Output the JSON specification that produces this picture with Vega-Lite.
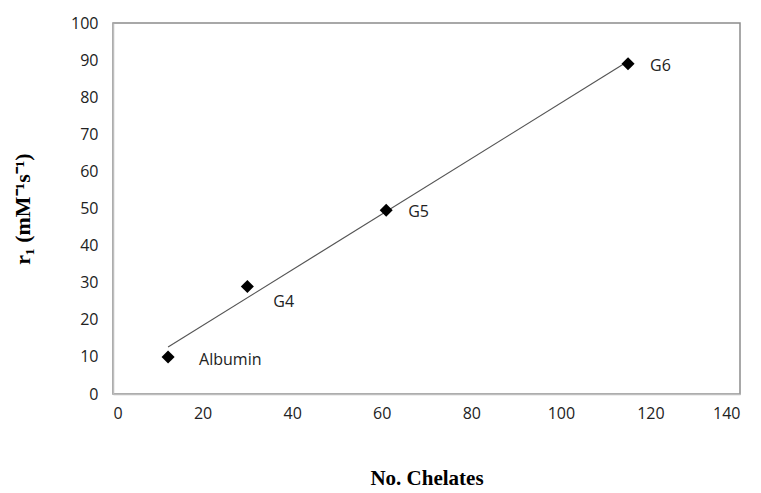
{
  "$schema": "https://vega.github.io/schema/vega-lite/v6.json",
  "width": 627,
  "height": 371,
  "autosize": {"type": "none"},
  "padding": {"left": 113, "top": 23, "right": 21, "bottom": 99},
  "background": "white",
  "config": {
    "view": {"stroke": "#8c8c8c", "strokeWidth": 1.5},
    "axis": {
      "grid": false,
      "ticks": false,
      "domain": true,
      "domainColor": "#bdbdbd",
      "domainWidth": 1.5,
      "labelFont": "Open Sans",
      "labelFontSize": 16,
      "labelColor": "#222",
      "labelOverlap": false,
      "titleFont": "Liberation Serif",
      "titleFontWeight": "bold",
      "titleColor": "#000"
    }
  },
  "data": {
    "values": [
      {"chelates": 12.3, "r1": 10, "name": "Albumin"},
      {"chelates": 30, "r1": 29, "name": "G4"},
      {"chelates": 61, "r1": 49.5, "name": "G5"},
      {"chelates": 115, "r1": 89, "name": "G6"}
    ]
  },
  "encoding": {
    "x": {
      "field": "chelates", "type": "quantitative",
      "scale": {"domain": [0, 140], "nice": false},
      "axis": {"values": [0, 20, 40, 60, 80, 100, 120, 140], "labelOverlap": false, "labelPadding": 11, "title": "No. Chelates", "titleFontSize": 21, "titlePadding": 46}
    },
    "y": {
      "field": "r1", "type": "quantitative",
      "scale": {"domain": [0, 100], "nice": false},
      "axis": {"values": [0, 10, 20, 30, 40, 50, 60, 70, 80, 90, 100], "labelOverlap": false, "labelFlush": false, "labelPadding": 15, "title": "r₁ (mM⁻¹s⁻¹)", "titleFontSize": 22, "titlePadding": 36}
    }
  },
  "layer": [
    {
      "transform": [{"regression": "r1", "on": "chelates"}],
      "mark": {"type": "line", "color": "#555", "strokeWidth": 1.2}
    },
    {
      "mark": {"type": "point", "shape": "diamond", "filled": true, "color": "#000", "size": 170, "opacity": 1}
    },
    {
      "transform": [{"filter": "datum.name == 'G5' || datum.name == 'G6'"}],
      "mark": {"type": "text", "align": "left", "baseline": "middle", "dx": 22, "dy": 2, "font": "Open Sans", "fontSize": 16, "color": "#222"},
      "encoding": {"text": {"field": "name"}}
    },
    {
      "transform": [{"filter": "datum.name == 'Albumin'"}],
      "mark": {"type": "text", "align": "left", "baseline": "middle", "dx": 31, "dy": 3, "font": "Open Sans", "fontSize": 16, "color": "#222"},
      "encoding": {"text": {"field": "name"}}
    },
    {
      "transform": [{"filter": "datum.name == 'G4'"}],
      "mark": {"type": "text", "align": "left", "baseline": "middle", "dx": 26, "dy": 16, "font": "Open Sans", "fontSize": 16, "color": "#222"},
      "encoding": {"text": {"field": "name"}}
    }
  ]
}
